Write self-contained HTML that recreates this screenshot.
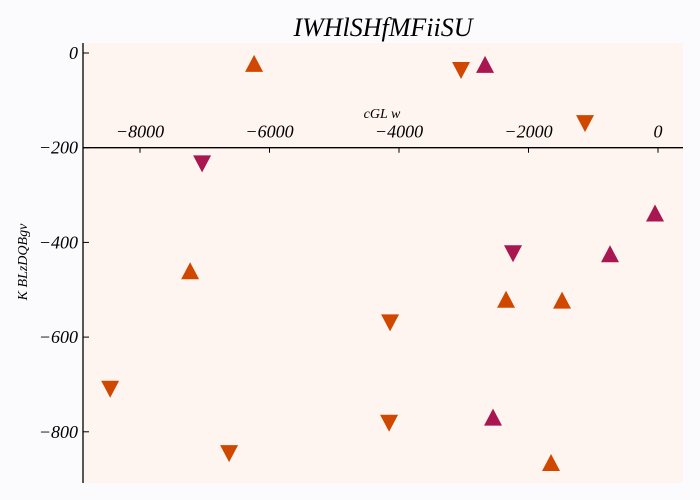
<!DOCTYPE html>
<html><head><meta charset="utf-8"><style>
html,body{margin:0;padding:0;background:#fbfafd;width:700px;height:500px;overflow:hidden;}
svg{display:block;}
text{font-family:"Liberation Serif",serif;font-style:italic;fill:#000;}
</style></head><body>
<svg id="chart" width="700" height="500" xmlns="http://www.w3.org/2000/svg">
<rect x="0" y="0" width="700" height="500" fill="#fbfafd"/>
<rect x="83" y="43" width="600" height="440" fill="#fff5f0"/>
<text x="383" y="36" font-size="26" text-anchor="middle">IWHlSHfMFiiSU</text>
<text x="382" y="118" font-size="14" text-anchor="middle">cGL w</text>
<text transform="translate(27,262) rotate(-90)" font-size="14" text-anchor="middle">K BLzDQBgv</text>
<g id="axes"></g>
<g id="marks"></g>
</svg>
<script>
const xTicks=[-8000,-6000,-4000,-2000,0];
const yTicks=[0,-200,-400,-600,-800];
const orangeUpX=[-6238,-7226,-2347,-1482,-1652];
const orangeUpY=[-23,-461,-521,-523,-866];
const orangeDownX=[-3042,-1127,-8461,-6624,-4138,-4153];
const orangeDownY=[-36,-148,-709,-845,-569,-781];
const crimsonUpX=[-2671,-46,-741,-2548];
const crimsonUpY=[-25,-339,-425,-770];
const crimsonDownX=[-7041,-2239];
const crimsonDownY=[-233,-423];
const NS='http://www.w3.org/2000/svg';
function sx(v){return 658+v*129.5/2000;}
function sy(v){return 53-v*94.7/200;}
const axes=document.getElementById('axes');
const marks=document.getElementById('marks');
function mk(tag,attrs,parent){const e=document.createElementNS(NS,tag);for(const k in attrs)e.setAttribute(k,attrs[k]);parent.appendChild(e);return e;}
const xl=mk('line',{x1:83,x2:683,y1:sy(-200),y2:sy(-200),stroke:'#000','stroke-width':1.3},axes);


const yl=mk('line',{x1:83,x2:83,y1:43,y2:483,stroke:'#000','stroke-width':1.3},axes);


xTicks.forEach(v=>{
  const t=mk('line',{x1:sx(v),x2:sx(v),y1:sy(-200),y2:sy(-200)+5,stroke:'#000'},axes);
  
  
  const l=mk('text',{x:sx(v),y:sy(-200)-10,'font-size':18,'text-anchor':'middle'},axes);
  l.textContent=(v<0?'\u2212':'')+Math.abs(v);
  
  
});
yTicks.forEach(v=>{
  const t=mk('line',{x1:83,x2:89,y1:sy(v),y2:sy(v),stroke:'#000'},axes);
  
  
  const l=mk('text',{x:78,y:sy(v)+6,'font-size':18,'text-anchor':'end'},axes);
  l.textContent=(v<0?'\u2212':'')+Math.abs(v);
  
  
});
function tri(x,y,up,color,name){
  const cx=sx(x),cy=sy(y);
  const pts=up?`${cx-9},${cy+8} ${cx+9},${cy+8} ${cx},${cy-9}`:`${cx-9},${cy-8} ${cx+9},${cy-8} ${cx},${cy+9}`;
  const p=mk('polygon',{points:pts,fill:color},marks);
  
  
}
orangeUpX.forEach((x,i)=>tri(x,orangeUpY[i],true,'#d04800','orange-up-point'));
orangeDownX.forEach((x,i)=>tri(x,orangeDownY[i],false,'#d04800','orange-down-point'));
crimsonUpX.forEach((x,i)=>tri(x,crimsonUpY[i],true,'#a8174f','crimson-up-point'));
crimsonDownX.forEach((x,i)=>tri(x,crimsonDownY[i],false,'#a8174f','crimson-down-point'));
</script>
</body></html>
